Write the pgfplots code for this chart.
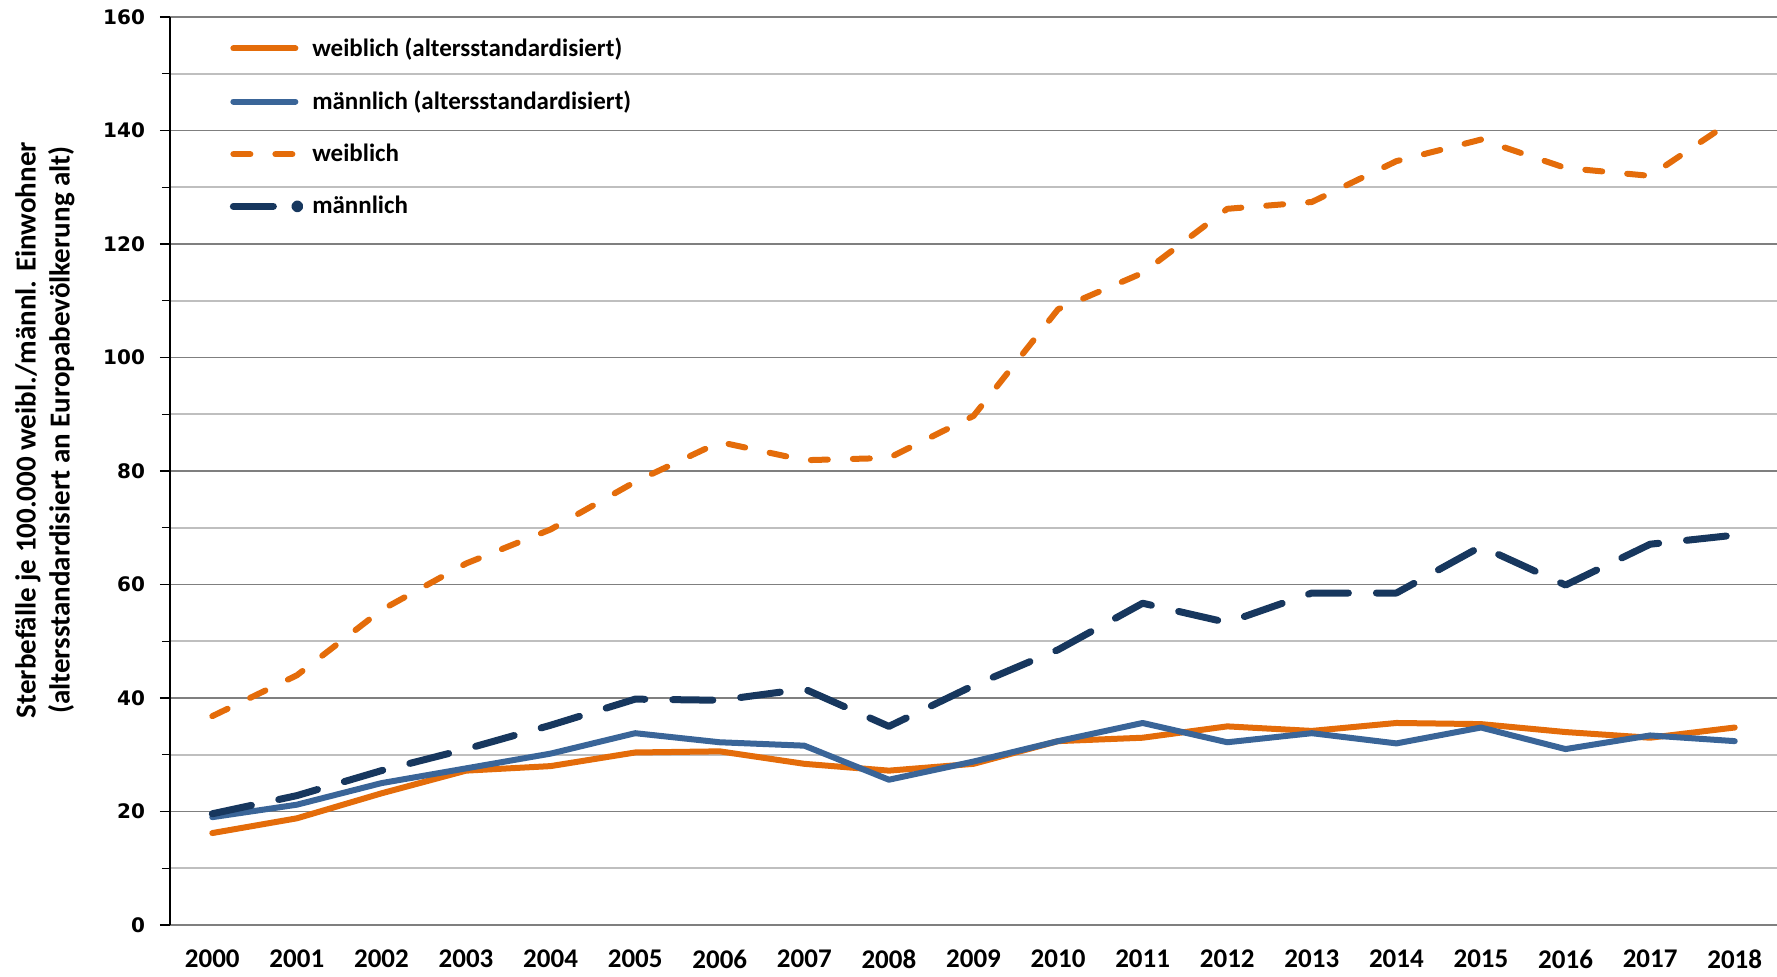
\documentclass[border=0pt]{standalone}
\usepackage{fontspec}
\setmainfont{Carlito}
\newfontfamily\dejavu{DejaVu Sans}
\usepackage{pgfplots}
\pgfplotsset{compat=1.18}
\usetikzlibrary{calc}
\definecolor{cOrange}{HTML}{E46C0A}
\definecolor{cBlue}{HTML}{3A6598}
\definecolor{cNavy}{HTML}{17375E}
\definecolor{gMajor}{HTML}{7F7F7F}
\definecolor{gMinor}{HTML}{BFBFBF}

\pgfplotstableread{
x wstd mstd w m
0 16.2 19.0 36.8 19.6
1 18.8 21.2 44.0 22.8
2 23.2 25.0 55.5 27.2
3 27.2 27.6 63.7 31.0
4 28.0 30.2 69.7 35.2
5 30.4 33.8 78.1 39.8
6 30.6 32.2 85.1 39.6
7 28.4 31.6 81.9 41.6
8 27.2 25.6 82.3 35.0
9 28.4 28.8 89.7 42.2
10 32.4 32.4 108.5 48.5
11 33.0 35.6 114.9 56.7
12 35.0 32.2 126.2 53.3
13 34.2 33.8 127.4 58.5
14 35.6 32.0 134.6 58.5
15 35.4 34.8 138.4 66.7
16 34.0 31.0 133.4 59.9
17 33.0 33.4 132.0 67.1
18 34.8 32.4 142.0 68.7
}\data

\begin{document}
\begin{tikzpicture}
\begin{axis}[
  scale only axis,
  width=803.5pt, height=454pt,
  xmin=-0.5, xmax=18.5,
  ymin=0, ymax=160,
  axis lines*=left,
  axis line style={line width=0.8pt},
  x axis line style={draw=gMajor},
  y axis line style={draw=black},
  xtick=data,
  xticklabels={2000,2001,2002,2003,2004,2005,2006,2007,2008,2009,2010,2011,2012,2013,2014,2015,2016,2017,2018},
  extra x ticks={-0.5,0.5,1.5,2.5,3.5,4.5,5.5,6.5,7.5,8.5,9.5,10.5,11.5,12.5,13.5,14.5,15.5,16.5,17.5,18.5},
  extra x tick labels={},
  extra x tick style={major tick length=7.5pt, tick style={draw=gMajor, line width=0.6pt}},
  x tick style={draw=none},
  xtick pos=bottom,
  xticklabel style={font=\fontsize{13.5}{15}\selectfont\bfseries, yshift=-9pt},
  ytick={0,20,...,160},
  minor y tick num=1,
  ymajorgrids, yminorgrids,
  major grid style={draw=gMajor, line width=0.8pt},
  minor grid style={draw=gMinor, line width=0.8pt},
  ytick pos=left,
  ytick align=outside,
  y tick style={draw=black, line width=0.6pt},
  major tick length=5pt,
  minor tick length=4pt,
  /pgf/number format/assume math mode=true,
  yticklabel style={font=\dejavu\bfseries\fontsize{10}{12}\selectfont, xshift=-4pt},
  ylabel={Sterbefälle je 100.000 weibl./männl. Einwohner\\(altersstandardisiert an Europabevölkerung alt)},
  ylabel style={at={(axis description cs:-0.0778,0.545)}, anchor=center, rotate=0, align=center, font=\fontsize{14.5}{17}\selectfont\bfseries},
  legend cell align=left,
  legend style={at={(axis description cs:0.037,0.981)}, anchor=north west, draw=none, fill=none,
     font=\fontsize{12.5}{15}\selectfont\bfseries, row sep=12.8pt, inner sep=0pt,
     nodes={inner sep=1.5pt}},
  legend image code/.code={\draw[#1] (0pt,0pt) -- (31pt,0pt);},
  clip=false,
]
\addplot[cOrange, line width=3pt, line join=round, line cap=round] table[x=x,y=wstd]{\data};
\addlegendentry{\hspace{3pt}weiblich (altersstandardisiert)}
\addplot[cBlue, line width=3pt, line join=round, line cap=round] table[x=x,y=mstd]{\data};
\addlegendentry{\hspace{3pt}männlich (altersstandardisiert)}
\addplot[cOrange, line width=3pt, line join=round, line cap=round, dash pattern=on 8.5pt off 12.5pt] table[x=x,y=w]{\data};
\addlegendentry{\hspace{3pt}weiblich}
\addplot[cNavy, line width=3.5pt, line join=round, line cap=round, dash pattern=on 20pt off 14pt,
  legend image code/.code={\draw[cNavy, line width=3.5pt, line cap=round] (0pt,0pt) -- (21pt,0pt); \fill[cNavy] (32pt,0pt) circle (1.2pt);}] table[x=x,y=m]{\data};
\addlegendentry{\hspace{3pt}männlich}
\end{axis}
\pgfresetboundingbox
\path[use as bounding box] ($(current axis.south west)+(-85pt,-25.5pt)$) rectangle ($(current axis.north east)+(0pt,8.5pt)$);
\end{tikzpicture}
\end{document}
